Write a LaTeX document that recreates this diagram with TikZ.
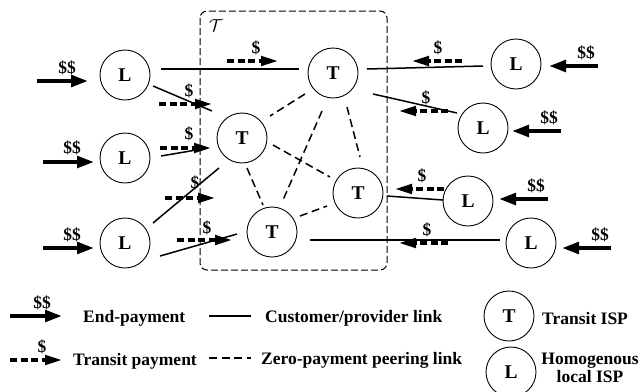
\documentclass[tikz,border=0pt]{standalone}
\usepackage{fontspec}
\setmainfont{Liberation Serif}
\usetikzlibrary{arrows.meta,calc}

\begin{document}
\begin{tikzpicture}[x=1pt,y=-1pt,
  bigbf/.style={font=\fontsize{17.5}{18}\selectfont\bfseries},
  isp/.style={circle,draw,line width=0.9pt,minimum size=50pt,inner sep=0pt,font=\fontsize{19.5}{20}\selectfont\bfseries},
  cplink/.style={line width=1.5pt},
  peer/.style={line width=1.5pt,dash pattern=on 8pt off 4.5pt},
  endpay/.style={line width=4pt,-{Triangle[length=17pt,width=11.5pt]}},
  transit/.style={line width=3.2pt,dash pattern=on 7pt off 3.5pt,-{Triangle[length=17pt,width=9.5pt]}},
  money/.style={bigbf,inner sep=0pt},
  legtext/.style={bigbf,inner sep=0pt,anchor=base west},
]
\useasboundingbox (0,0) rectangle (639,391);

% transit region
\draw[line width=1pt,dash pattern=on 7pt off 3pt,rounded corners=7pt] (200,11) rectangle (387,270);
\node[font=\fontsize{18}{18}\selectfont,inner sep=0pt] (tlabel) at (216,26) {$\mathcal{T}$};

% local ISPs on the left
\node[isp] (L1) at (125,75) {L};
\node[isp] (L2) at (125,158) {L};
\node[isp] (L3) at (125,243) {L};
% transit ISPs
\node[isp] (T1) at (242,138) {T};
\node[isp] (Tb) at (272,232) {T};
\node[isp] (Tt) at (333,73) {T};
\node[isp] (Tr) at (358,193) {T};
% local ISPs on the right
\node[isp] (R1) at (516,64) {L};
\node[isp] (R2) at (483,128) {L};
\node[isp] (R3) at (468,201) {L};
\node[isp] (R4) at (531,243) {L};

% customer/provider links
\draw[cplink] ($(L1)+(36,-6)$) -- ($(Tt)+(-34,-4)$);
\draw[cplink] ($(L1)+(28,11)$) -- ($(T1)+(-30,-27)$);
\draw[cplink] ($(L2)+(36,-2)$) -- ($(T1)+(-34,10)$);
\draw[cplink] ($(L3)+(28,-20)$) -- ($(T1)+(-23,30)$);
\draw[cplink] ($(L3)+(35,13)$) -- ($(Tb)+(-35,2)$);
\draw[cplink] ($(Tb)+(38,8)$) -- ($(R4)+(-31,-3)$);
\draw[cplink] ($(Tt)+(34,-4)$) -- ($(R1)+(-33,2)$);
\draw[cplink] ($(Tt)+(40,21)$) -- ($(R2)+(-26,-15)$);
\draw[cplink] ($(Tr)+(29,3)$) -- ($(R3)+(-25,-1)$);

% zero-payment peering links
\draw[peer] ($(Tt)+(-28,21)$) -- ($(T1)+(28,-22)$);
\draw[peer] ($(Tt)+(-11,38)$) -- ($(Tb)+(11,-32)$);
\draw[peer] ($(Tt)+(14,34)$) -- ($(Tr)+(2,-36)$);
\draw[peer] ($(T1)+(31,7)$) -- ($(Tr)+(-28,-16)$);
\draw[peer] ($(T1)+(5,30)$) -- ($(Tb)+(-9,-27)$);
\draw[peer] ($(Tb)+(28,-16)$) -- ($(Tr)+(-31,13)$);

% transit payments
\draw[transit] (227,61) -- (278,61);
\node[money] (p1) at (256,48) {\$};
\draw[transit] (159,104) -- (212,104);
\node[money] (p2) at (189,91) {\$};
\draw[transit] (160,148) -- (211,148);
\node[money] (p3) at (189,134) {\$};
\draw[transit] (165,198) -- (215,198);
\node[money] (p4) at (195,183) {\$};
\draw[transit] (177,240) -- (232,240);
\node[money] (p5) at (207,228) {\$};
\draw[transit] (462,61) -- (412,61);
\node[money] (p6) at (438,48) {\$};
\draw[transit] (448,111) -- (399,111);
\node[money] (p7) at (426,98) {\$};
\draw[transit] (444,189) -- (395,189);
\node[money] (p8) at (422,176) {\$};
\draw[transit] (448,243) -- (399,243);
\node[money] (p9) at (427,230) {\$};

% end-payments
\draw[endpay] (37,81) -- (88,81);
\node[money] (e1) at (67,68) {\$\$};
\draw[endpay] (43,162) -- (94,162);
\node[money] (e2) at (72,148) {\$\$};
\draw[endpay] (43,248) -- (94,248);
\node[money] (e3) at (72,235) {\$\$};
\draw[endpay] (598,66) -- (549,66);
\node[money] (e4) at (586,53) {\$\$};
\draw[endpay] (561,131) -- (512,131);
\node[money] (e5) at (549,118) {\$\$};
\draw[endpay] (548,199) -- (499,199);
\node[money] (e6) at (536,186) {\$\$};
\draw[endpay] (611,248) -- (562,248);
\node[money] (e7) at (600,235) {\$\$};

% legend
\draw[endpay] (10,316) -- (62,316);
\node[money] (le) at (42,303) {\$\$};
\node[legtext] (lt1) at (83,322) {End-payment};
\draw[cplink] (209,316) -- (251,316);
\node[legtext] (lt2) at (265,322) {Customer/provider link};
\draw[transit] (10,360) -- (62,360);
\node[money] (lp) at (42,347) {\$};
\node[legtext] (lt3) at (73,365) {Transit payment};
\draw[peer] (209,358) -- (251,358);
\node[legtext] (lt4) at (261,364) {Zero-payment peering link};
\node[isp] (legT) at (509,316) {T};
\node[legtext] (lt5) at (542,324) {Transit ISP};
\node[isp] (legL) at (511,372) {L};
\node[bigbf,inner sep=0pt,align=center] (lt6) at (590,368) {Homogenous\\local ISP};
\end{tikzpicture}
\end{document}
